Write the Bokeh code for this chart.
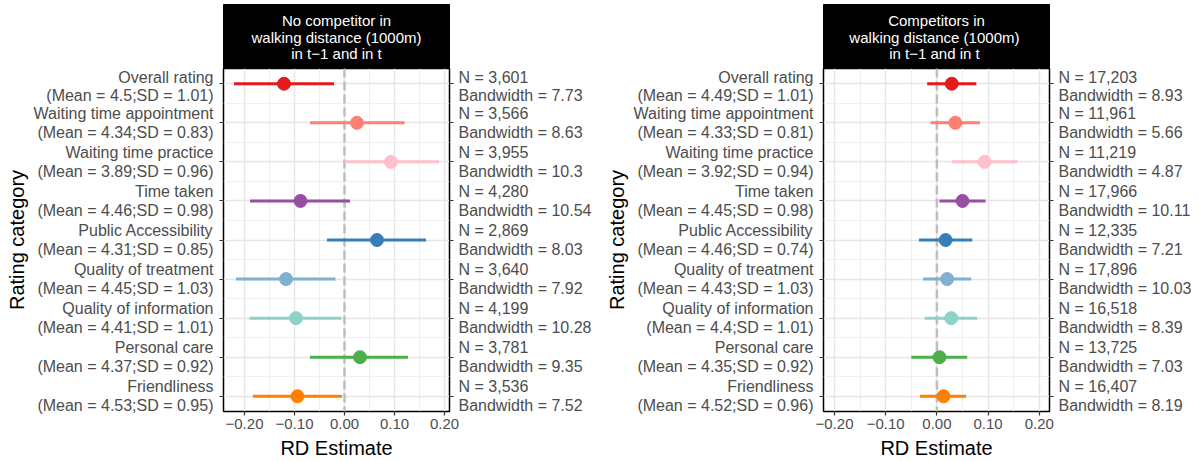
from bokeh.plotting import figure
from bokeh.models import FixedTicker, LinearAxis, Span, ColumnDataSource, Range1d
from bokeh.layouts import row, column
from bokeh.core.properties import value
from bokeh.embed import file_html
from bokeh.resources import INLINE

FONT = "Liberation Sans"

categories = ["Overall rating", "Waiting time appointment", "Waiting time practice",
              "Time taken", "Public Accessibility", "Quality of treatment",
              "Quality of information", "Personal care", "Friendliness"]
colors = ["#E41A1C", "#FB8072", "#FFC0CB", "#984EA3", "#377EB8",
          "#80B1D3", "#8DD3C7", "#4DAF4A", "#FF7F00"]

# no competitor panel
no_comp_mean = [4.5, 4.34, 3.89, 4.46, 4.31, 4.45, 4.41, 4.37, 4.53]
no_comp_sd = [1.01, 0.83, 0.96, 0.98, 0.85, 1.03, 1.01, 0.92, 0.95]
no_comp_n = [3601, 3566, 3955, 4280, 2869, 3640, 4199, 3781, 3536]
no_comp_bw = [7.73, 8.63, 10.3, 10.54, 8.03, 7.92, 10.28, 9.35, 7.52]
no_comp_est = [-0.121, 0.025, 0.093, -0.088, 0.065, -0.117, -0.097, 0.031, -0.094]
no_comp_lo = [-0.221, -0.069, 0.000, -0.189, -0.035, -0.217, -0.190, -0.069, -0.183]
no_comp_hi = [-0.021, 0.120, 0.189, 0.011, 0.163, -0.018, -0.006, 0.127, -0.005]
no_comp_title = ["No competitor in", "walking distance (1000m)", "in t\u22121 and in t"]

# competitors panel
comp_mean = [4.49, 4.33, 3.92, 4.45, 4.46, 4.43, 4.4, 4.35, 4.52]
comp_sd = [1.01, 0.81, 0.94, 0.98, 0.74, 1.03, 1.01, 0.92, 0.96]
comp_n = [17203, 11961, 11219, 17966, 12335, 17896, 16518, 13725, 16407]
comp_bw = [8.93, 5.66, 4.87, 10.11, 7.21, 10.03, 8.39, 7.03, 8.19]
comp_est = [0.029, 0.036, 0.093, 0.050, 0.017, 0.020, 0.028, 0.005, 0.013]
comp_lo = [-0.019, -0.012, 0.030, 0.005, -0.035, -0.027, -0.024, -0.050, -0.033]
comp_hi = [0.077, 0.084, 0.157, 0.095, 0.069, 0.067, 0.079, 0.059, 0.057]
comp_title = ["Competitors in", "walking distance  (1000m)", "in t\u22121  and in t"]

x_ticks = [-0.2, -0.1, 0.0, 0.1, 0.2]
x_minor = [-0.15, -0.05, 0.05, 0.15]
x_tick_labels = ["\u22120.20", "\u22120.10", "0.00", "0.10", "0.20"]


def style_axis(ax):
    ax.major_label_text_font = FONT
    ax.major_label_text_color = "#4D4D4D"
    ax.major_label_text_line_height = 1.1
    ax.axis_label_text_font = FONT
    ax.axis_label_text_font_style = "normal"
    ax.axis_label_text_color = "black"
    ax.axis_line_color = None
    ax.major_tick_line_color = "#333333"
    ax.major_tick_line_width = 1.2
    ax.major_tick_in = 0
    ax.major_tick_out = 4
    ax.minor_tick_line_color = None


def make_panel(title_lines, mean, sd, n, bw, est, lo, hi, x_start, x_end, right_border):
    k = len(categories)
    ys = [k - i for i in range(k)]

    # black strip on top
    s = figure(frame_width=226, frame_height=64, x_range=(0, 1), y_range=(0, 1),
               min_border_left=223, min_border_right=right_border,
               min_border_top=4, min_border_bottom=0,
               toolbar_location=None, output_backend="svg")
    s.background_fill_color = "black"
    s.outline_line_color = "black"
    s.axis.visible = False
    s.grid.visible = False
    s.text(x=[0.5] * 3, y=[0.75, 0.484, 0.234], text=title_lines,
           text_align="center", text_baseline="middle", text_color="white",
           text_font_size="15px", text_font=value(FONT))

    p = figure(frame_width=226, frame_height=343,
               x_range=Range1d(x_start, x_end), y_range=Range1d(0.61, 9.39),
               min_border_left=223, min_border_right=right_border,
               min_border_top=0, min_border_bottom=50,
               toolbar_location=None, output_backend="svg")
    p.outline_line_color = "black"
    p.outline_line_width = 1.5

    p.xaxis.ticker = FixedTicker(ticks=x_ticks, minor_ticks=x_minor)
    p.xaxis.major_label_overrides = dict(zip(x_ticks, x_tick_labels))
    p.xaxis.axis_label = "RD Estimate"
    p.xaxis.axis_label_text_font_size = "20px"
    p.xaxis.major_label_text_font_size = "15px"
    p.xaxis.major_label_standoff = 3
    p.xaxis.axis_label_standoff = 5

    left_labels = [f"{c}\n(Mean = {m:g};SD = {d:g})" for c, m, d in zip(categories, mean, sd)]
    p.yaxis.ticker = FixedTicker(ticks=ys)
    p.yaxis.major_label_overrides = dict(zip(ys, left_labels))
    p.yaxis.axis_label = "Rating category"
    p.yaxis.axis_label_text_font_size = "20px"
    p.yaxis.major_label_text_font_size = "16px"
    p.yaxis.major_label_standoff = 6
    p.yaxis.axis_label_standoff = 3

    right_labels = [f"N = {a:,}\nBandwidth = {b:g}" for a, b in zip(n, bw)]
    ra = LinearAxis(ticker=FixedTicker(ticks=ys))
    ra.major_label_overrides = dict(zip(ys, right_labels))
    ra.major_label_text_font_size = "16px"
    ra.major_label_standoff = 5
    p.add_layout(ra, "right")

    for ax in p.xaxis + p.yaxis:
        style_axis(ax)

    p.xgrid.ticker = FixedTicker(ticks=x_ticks, minor_ticks=x_minor)
    p.ygrid.ticker = FixedTicker(ticks=ys, minor_ticks=[y + 0.5 for y in ys[1:]])
    p.grid.grid_line_color = "#E5E5E5"
    p.grid.grid_line_width = 1.3
    p.grid.minor_grid_line_color = "#EBEBEB"
    p.grid.minor_grid_line_width = 0.8

    p.add_layout(Span(location=0, dimension="height", line_color="#BEBEBE",
                      line_width=2.5, line_dash="9 4", level="underlay"))

    src = ColumnDataSource(dict(y=ys, est=est, lo=lo, hi=hi, color=colors))
    p.segment(x0="lo", y0="y", x1="hi", y1="y", line_color="color", line_width=3, source=src)
    p.scatter(x="est", y="y", size=13, fill_color="color", line_color="color", source=src)

    return column(s, p, spacing=0)


left = make_panel(no_comp_title, no_comp_mean, no_comp_sd, no_comp_n, no_comp_bw,
                  no_comp_est, no_comp_lo, no_comp_hi, -0.242, 0.210, 151)
right = make_panel(comp_title, comp_mean, comp_sd, comp_n, comp_bw,
                   comp_est, comp_lo, comp_hi, -0.2215, 0.2199, 149)

layout = row(left, right, spacing=0)

open("out.html", "w").write(file_html(layout, INLINE))
